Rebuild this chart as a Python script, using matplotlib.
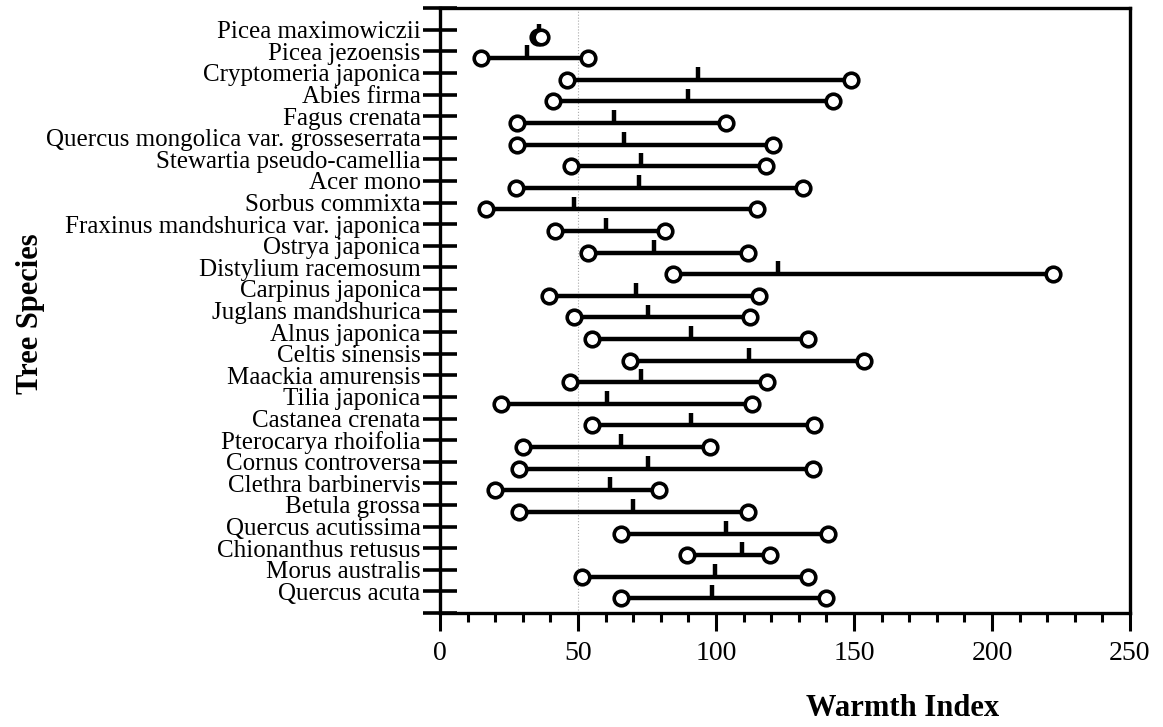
import matplotlib
matplotlib.use("Agg")
from matplotlib import pyplot as plt
from matplotlib.ticker import MultipleLocator

species = [
    "Picea maximowiczii", "Picea jezoensis", "Cryptomeria japonica", "Abies firma",
    "Fagus crenata", "Quercus mongolica var. grosseserrata", "Stewartia pseudo-camellia",
    "Acer mono", "Sorbus commixta", "Fraxinus mandshurica var. japonica",
    "Ostrya japonica", "Distylium racemosum", "Carpinus japonica", "Juglans mandshurica",
    "Alnus japonica", "Celtis sinensis", "Maackia amurensis", "Tilia japonica",
    "Castanea crenata", "Pterocarya rhoifolia", "Cornus controversa",
    "Clethra barbinervis", "Betula grossa", "Quercus acutissima",
    "Chionanthus retusus", "Morus australis", "Quercus acuta",
]
wi_min = [35.5, 15, 46, 41, 28, 28, 47.5, 27.5, 16.5, 41.5, 53.5, 84.5, 39.5, 48.5,
          55, 69, 47, 22, 55, 30, 28.5, 20, 28.5, 65.5, 89.5, 51.5, 65.5]
wi_mean = [36, 31.5, 93.5, 90, 63, 66.5, 73, 72, 48.5, 60, 77.5, 122.5, 71, 75.5,
           91, 112, 73, 60.5, 91, 65.5, 75.5, 61.5, 70, 103.5, 109.5, 99.5, 98.5]
wi_max = [36.5, 53.5, 149, 142.5, 103.5, 120.5, 118, 131.5, 115, 81.5, 111.5, 222,
          115.5, 112.5, 133.5, 153.5, 118.5, 113, 135.5, 98, 135, 79.5, 111.5, 140.5,
          119.5, 133.5, 140]

x_ticks = [0, 50, 100, 150, 200, 250]

plt.rcParams['font.family'] = ['Liberation Serif', 'DejaVu Serif']

fig = plt.figure(figsize=(11.63, 7.27), dpi=100)
ax = fig.add_axes([0.3783, 0.1568, 0.5933, 0.832])

# faint dotted guide seen in the scan
ax.axvline(50, color='#aaaaaa', linestyle=':', linewidth=0.8, zorder=0)

y_pos = list(range(len(species)))
shift = 0.32  # bars sit a little below the tick marks
for i in y_pos:
    y = i + shift
    ax.plot([wi_min[i], wi_max[i]], [y, y], color='black', linewidth=3.2,
            solid_capstyle='butt', zorder=2)
    ax.vlines(wi_mean[i], y, y - 0.6, color='black', linewidth=3.2, zorder=2)
    ax.plot([wi_min[i], wi_max[i]], [y, y], linestyle='none', marker='o',
            markersize=10.5, markerfacecolor='white', markeredgecolor='black',
            markeredgewidth=2.6, zorder=3)

ax.set_xlim(0, 250)
ax.set_ylim(27, -1)
ax.set_xticks(x_ticks)
ax.set_xticklabels([str(t) for t in x_ticks])
ax.xaxis.set_minor_locator(MultipleLocator(10))
ax.set_yticks(range(-1, len(species) + 1))
ax.set_yticklabels([''] + species + [''])

ax.tick_params(axis='y', direction='inout', length=24, width=2.6, pad=2, labelsize=18)
ax.tick_params(axis='x', which='major', direction='out', length=13, width=2.2,
               pad=7, labelsize=20)
ax.tick_params(axis='x', which='minor', direction='out', length=6.5, width=2.2)

for sp in ax.spines.values():
    sp.set_linewidth(2.4)

fig.text(0.776, 0.026, 'Warmth Index', fontsize=22, fontweight='bold',
         ha='center', va='center')
fig.text(0.026, 0.568, 'Tree Species', fontsize=22, fontweight='bold',
         rotation=90, ha='center', va='center')

fig.savefig('out.png', dpi=100)
